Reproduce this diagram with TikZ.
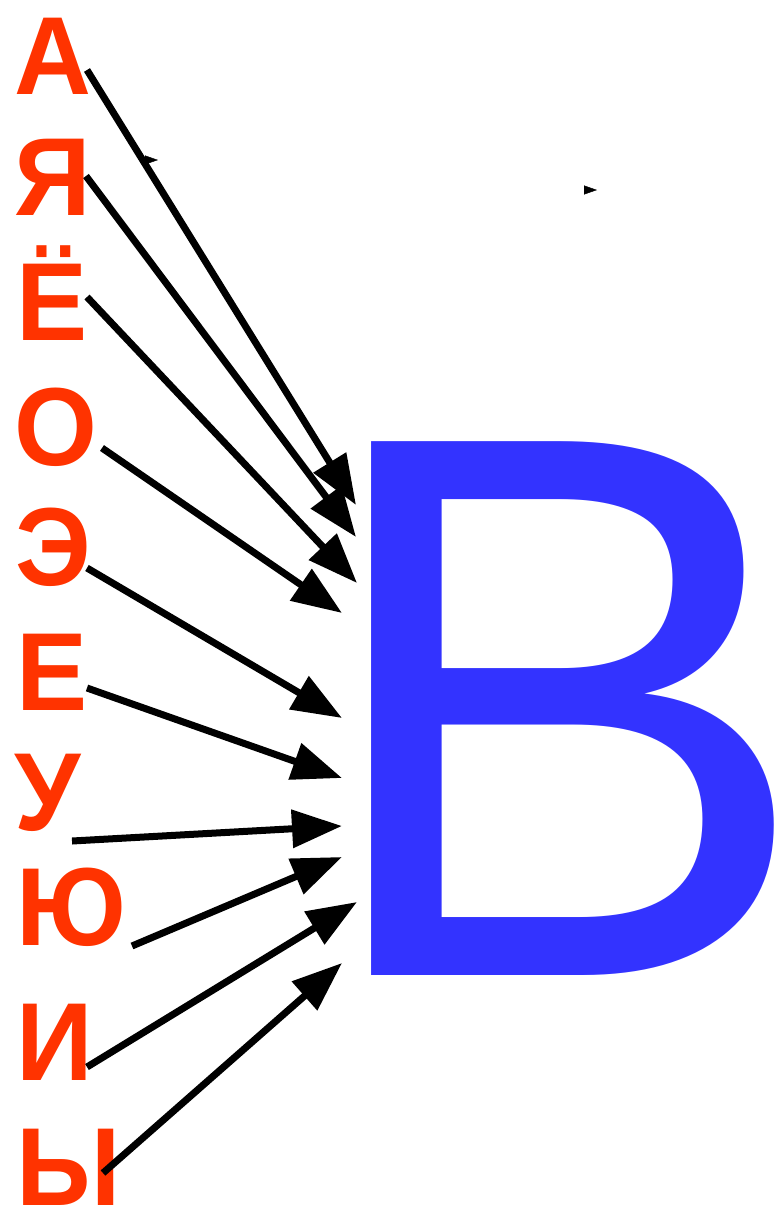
\documentclass[tikz,border=0pt]{standalone}
\usepackage{fontspec}
\setmainfont{Liberation Sans}
\usetikzlibrary{arrows.meta}
\definecolor{vowelred}{HTML}{FF3300}
\definecolor{bigblue}{HTML}{3333FF}

\begin{document}
\begin{tikzpicture}[
x=1pt, y=-1pt,
vowel/.style={anchor=base west, inner sep=0pt, text=vowelred, xscale=0.96, transform shape, font=\fontsize{111}{111}\selectfont\bfseries},
bigletter/.style={anchor=base west, inner sep=0pt, text=bigblue, xscale=0.975, transform shape, font=\fontsize{776}{776}\selectfont},
arrow/.style={-{Triangle[length=50pt,width=37pt]}, line width=7pt},
stray/.style={-{Triangle[length=13pt,width=9pt]}, line width=0.4pt}
]
\useasboundingbox (0,0) rectangle (775,1207);

% letters
\node[vowel] (a) at (14,95) {А};
\node[vowel] (ya) at (14,215) {Я};
\node[vowel] (yo) at (16,340) {Ё};
\node[vowel] (o) at (14,465) {О};
\node[vowel] (e) at (15,585) {Э};
\node[vowel] (ye) at (16,710) {Е};
\node[vowel] (u) at (14,830) {У};
\node[vowel] (yu) at (16,945) {Ю};
\node[vowel] (i) at (16,1080) {И};
\node[vowel] (y) at (16,1205) {Ы};

\node[bigletter] (ve) at (309,975) {В};

% arrow ends
\coordinate (a-out) at (87,70);
\coordinate (a-in) at (356,505);
\coordinate (ya-out) at (86,176);
\coordinate (ya-in) at (356,537);
\coordinate (yo-out) at (87,297);
\coordinate (yo-in) at (357,583);
\coordinate (o-out) at (102,448);
\coordinate (o-in) at (342,613);
\coordinate (e-out) at (87,568);
\coordinate (e-in) at (342,718);
\coordinate (ye-out) at (87,688);
\coordinate (ye-in) at (342,778);
\coordinate (u-out) at (72,841);
\coordinate (u-in) at (342,826);
\coordinate (yu-out) at (132,946);
\coordinate (yu-in) at (342,857);
\coordinate (i-out) at (87,1067);
\coordinate (i-in) at (357,902);
\coordinate (y-out) at (103,1173);
\coordinate (y-in) at (342,963);

\draw[arrow] (a-out) -- (a-in);
\draw[arrow] (ya-out) -- (ya-in);
\draw[arrow] (yo-out) -- (yo-in);
\draw[arrow] (o-out) -- (o-in);
\draw[arrow] (e-out) -- (e-in);
\draw[arrow] (ye-out) -- (ye-in);
\draw[arrow] (u-out) -- (u-in);
\draw[arrow] (yu-out) -- (yu-in);
\draw[arrow] (i-out) -- (i-in);
\draw[arrow] (y-out) -- (y-in);

% stray tips
\coordinate (s1) at (144,160);
\coordinate (t1) at (158,160);
\coordinate (s2) at (584,190);
\coordinate (t2) at (597,190);
\draw[stray] (s1) -- (t1);
\draw[stray] (s2) -- (t2);

\end{tikzpicture}
\end{document}
